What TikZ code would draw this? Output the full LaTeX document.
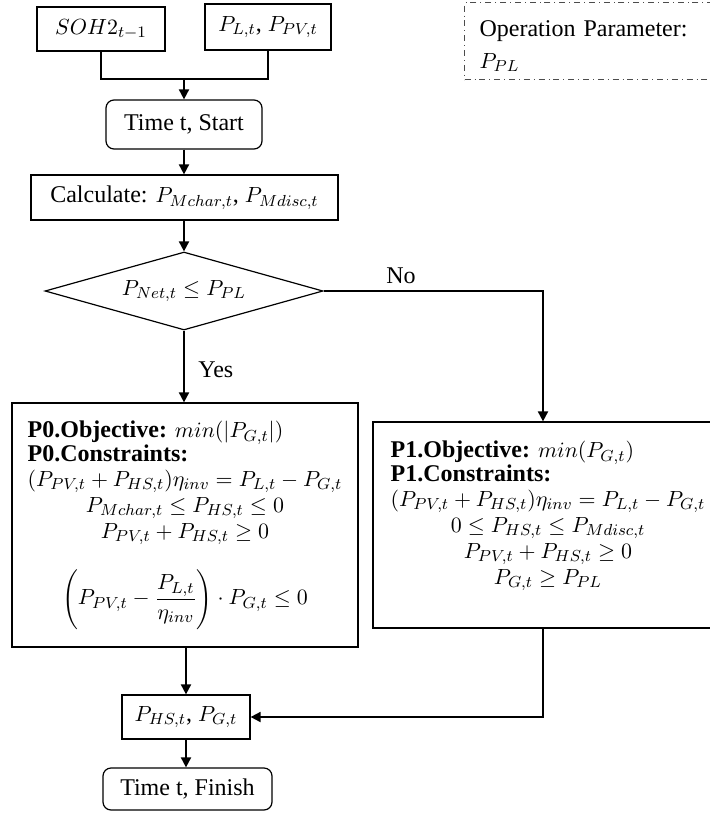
\documentclass[tikz,border=0pt]{standalone}
\usepackage{fontspec}
\setmainfont{Liberation Serif}
\DeclareMathSizes{12}{10.95}{8}{6}
\usetikzlibrary{shapes.geometric,arrows.meta}

\tikzset{
  txt/.style={font=\fontsize{12}{12}\selectfont},
  box/.style={draw, line width=0.6pt, inner sep=0pt, align=center, txt},
  rbox/.style={box, rounded corners=4pt},
  decision/.style={box, diamond, aspect=3.56},
  conn/.style={line width=0.9pt},
  arr/.style={conn, -{Triangle[length=5pt,width=5pt]}},
  lbl/.style={txt, inner sep=0pt, anchor=base west},
  param/.style={draw=black!70, dash dot, line width=0.6pt, txt, align=left,
    anchor=north west, inner xsep=7.5pt, inner ysep=0pt},
}
\newcommand{\lrow}[1]{\multicolumn{1}{@{}l@{}}{#1}}

\begin{document}
\begin{tikzpicture}[x=0.5pt, y=-0.5pt]
  \useasboundingbox (0,0) rectangle (710,814);

  % inputs
  \node[box, minimum width=64pt, minimum height=22pt] (soh) at (101,29) {$SOH2_{t-1}$};
  \node[box, minimum width=63pt, minimum height=23pt] (pin) at (268,27) {$P_{L,t}$, $P_{PV,t}$};
  \coordinate (join) at (184,79);

  % operation parameter note
  \node[param, minimum width=128pt, minimum height=38.5pt, text width=113pt] (par) at (464,2)
    {\rule{0pt}{13pt}Operation Parameter:\\[4pt]$P_{PL}$};

  % main column
  \node[rbox, minimum width=78pt, minimum height=24.5pt] (start) at (184,124.5) {Time t, Start};
  \node[box, minimum width=153.5pt, minimum height=22.5pt] (calc) at (184.5,197.5)
    {Calculate: $P_{Mchar,t}$, $P_{Mdisc,t}$};
  \node[decision, minimum width=139pt, minimum height=39pt] (dec) at (184,291)
    {$P_{Net,t}\le P_{PL}$};

  % P0 problem
  \node[box, minimum width=173pt, minimum height=122pt] (p0) at (185,525) {%
    \begin{tabular}{@{}c@{}}
      \lrow{\textbf{P0.Objective:} $min\bigl(\bigl|P_{G,t}\bigr|\bigr)$}\\
      \lrow{\textbf{P0.Constraints:}}\\
      $\bigl(P_{PV,t}+P_{HS,t}\bigr)\eta_{inv}=P_{L,t}-P_{G,t}$\\[1pt]
      $P_{Mchar,t}\le P_{HS,t}\le 0$\\[1pt]
      $P_{PV,t}+P_{HS,t}\ge 0$\\[12pt]
      $\displaystyle\Biggl(P_{PV,t}-\frac{P_{L,t}}{\eta_{inv}}\Biggr)\cdot P_{G,t}\le 0$
    \end{tabular}};

  % P1 problem
  \node[box, minimum width=175pt, minimum height=103pt] (p1) at (548,525) {%
    \begin{tabular}{@{}c@{}}
      \lrow{\textbf{P1.Objective:} $min\bigl(P_{G,t}\bigr)$}\\
      \lrow{\textbf{P1.Constraints:}}\\
      $\bigl(P_{PV,t}+P_{HS,t}\bigr)\eta_{inv}=P_{L,t}-P_{G,t}$\\[1pt]
      $0\le P_{HS,t}\le P_{Mdisc,t}$\\[1pt]
      $P_{PV,t}+P_{HS,t}\ge 0$\\[1pt]
      $P_{G,t}\ge P_{PL}$\\[9pt]
    \end{tabular}};
  \coordinate (bend) at (543,291);

  % results and end
  \node[box, minimum width=64pt, minimum height=22pt] (res) at (186,717) {$P_{HS,t}$, $P_{G,t}$};
  \node[rbox, minimum width=84.5pt, minimum height=21pt] (fin) at (187.5,789) {Time t, Finish};

  % branch labels
  \node[lbl] (yes) at (198,377) {Yes};
  \node[lbl] (no) at (386,283) {No};

  % connectors
  \draw[conn] (soh.south) -- (soh.south |- join) -- (pin.south |- join) -- (pin.south);
  \draw[arr] (join) -- (start.north);
  \draw[arr] (start.south) -- (start.south |- calc.north);
  \draw[arr] (calc.south -| dec.north) -- (dec.north);
  \draw[arr] (dec.south) -- (dec.south |- p0.north);
  \draw[arr] (dec.east) -- (bend) -- (bend |- p1.north);
  \draw[arr] (p0.south -| res.north) -- (res.north);
  \draw[arr] (p1.south -| bend) |- (res.east);
  \draw[arr] (res.south) -- (res.south |- fin.north);
\end{tikzpicture}
\end{document}
